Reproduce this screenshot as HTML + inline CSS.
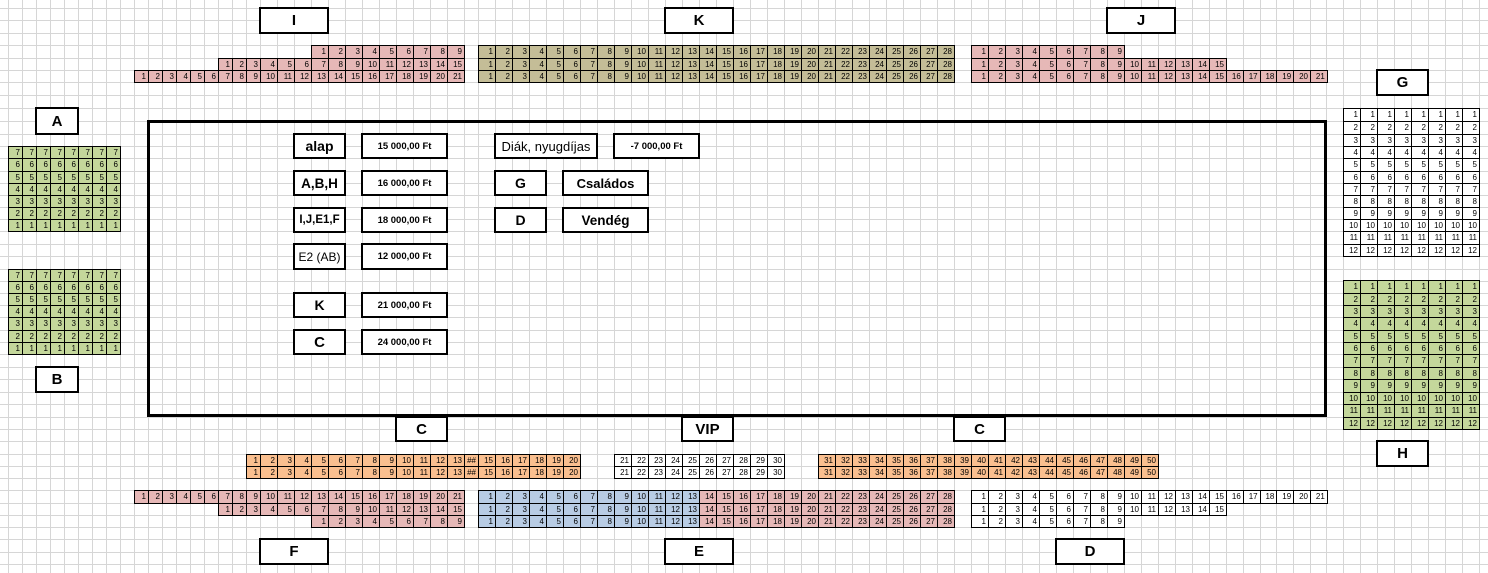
<!DOCTYPE html>
<html><head><meta charset="utf-8">
<style>
html,body{margin:0;padding:0}
body{width:1488px;height:573px;overflow:hidden;background:#fff;position:relative;font-family:"Liberation Sans",Arial,sans-serif;color:#000}
svg.g{position:absolute;left:0;top:0}
.r{position:absolute;display:flex;border-top:1px solid #000;border-left:1px solid #000;box-sizing:border-box;font-size:8px;line-height:12px;background:#fff}
.r i{font-style:normal;flex:none;box-sizing:border-box;width:17px;border-right:1px solid #000;border-bottom:1px solid #000;text-align:right;padding-right:2px;overflow:hidden;white-space:nowrap}
.nn i{width:14px}
.n3 i:nth-child(-n+3){width:14px}
.n9 i:nth-child(-n+9){width:14px}
.xj i:nth-child(n+16){width:16.8px}
.cl i:nth-child(1),.cl i:nth-child(14){width:14px}
.pk{background:#e6b8b7}.tn{background:#c4bd97}.gr{background:#c4d79b}.bl{background:#b8cce4}.or{background:#fabf8f}
.e i:nth-child(-n+13){background:#b8cce4}
.lb{position:absolute;box-sizing:border-box;border:2px solid #000;background:#fff;display:flex;align-items:center;justify-content:center;font-weight:bold;font-size:15px;white-space:nowrap}
.p{font-size:9.5px}
.rect{position:absolute;left:147px;top:120px;width:1180px;height:297px;border:3px solid #000;box-sizing:border-box}
</style></head><body>
<svg class="g" width="1488" height="573" xmlns="http://www.w3.org/2000/svg">
<path stroke="#d6d6d6" stroke-width="1" fill="none" d="M8.5 0V573M22.5 0V573M36.5 0V573M50.5 0V573M64.5 0V573M78.5 0V573M92.5 0V573M106.5 0V573M120.5 0V573M134.5 0V573M148.5 0V573M162.5 0V573M176.5 0V573M190.5 0V573M204.5 0V573M218.5 0V573M232.5 0V573M246.5 0V573M260.5 0V573M277.5 0V573M294.5 0V573M311.5 0V573M328.5 0V573M345.5 0V573M362.5 0V573M379.5 0V573M396.5 0V573M413.5 0V573M430.5 0V573M447.5 0V573M464.5 0V573M478.5 0V573M495.5 0V573M512.5 0V573M529.5 0V573M546.5 0V573M563.5 0V573M580.5 0V573M597.5 0V573M614.5 0V573M631.5 0V573M648.5 0V573M665.5 0V573M682.5 0V573M699.5 0V573M716.5 0V573M733.5 0V573M750.5 0V573M767.5 0V573M784.5 0V573M801.5 0V573M818.5 0V573M835.5 0V573M852.5 0V573M869.5 0V573M886.5 0V573M903.5 0V573M920.5 0V573M937.5 0V573M954.5 0V573M971.5 0V573M988.5 0V573M1005.5 0V573M1022.5 0V573M1039.5 0V573M1056.5 0V573M1073.5 0V573M1090.5 0V573M1107.5 0V573M1124.5 0V573M1141.5 0V573M1158.5 0V573M1175.5 0V573M1192.5 0V573M1209.5 0V573M1226.5 0V573M1243.5 0V573M1260.5 0V573M1276.5 0V573M1293.5 0V573M1310.5 0V573M1326.5 0V573M1343.5 0V573M1360.5 0V573M1377.5 0V573M1394.5 0V573M1411.5 0V573M1428.5 0V573M1445.5 0V573M1462.5 0V573M1479.5 0V573
M0 8.5H1488M0 20.5H1488M0 33.5H1488M0 45.5H1488M0 58.5H1488M0 70.5H1488M0 82.5H1488M0 95.5H1488M0 108.5H1488M0 121.5H1488M0 134.5H1488M0 146.5H1488M0 158.5H1488M0 171.5H1488M0 183.5H1488M0 195.5H1488M0 207.5H1488M0 219.5H1488M0 231.5H1488M0 244.5H1488M0 256.5H1488M0 269.5H1488M0 281.5H1488M0 293.5H1488M0 305.5H1488M0 317.5H1488M0 330.5H1488M0 342.5H1488M0 354.5H1488M0 367.5H1488M0 379.5H1488M0 392.5H1488M0 404.5H1488M0 417.5H1488M0 429.5H1488M0 441.5H1488M0 454.5H1488M0 466.5H1488M0 478.5H1488M0 490.5H1488M0 503.5H1488M0 515.5H1488M0 527.5H1488M0 539.5H1488M0 552.5H1488M0 564.5H1488"/>
</svg>

<div class="rect"></div>

<!-- Top labels -->
<div class="lb" style="left:259px;top:7px;width:70px;height:27px">I</div>
<div class="lb" style="left:664px;top:7px;width:70px;height:27px">K</div>
<div class="lb" style="left:1106px;top:7px;width:70px;height:27px">J</div>

<!-- I section -->
<div class="r pk" style="left:311px;top:45px;height:14px"><i>1</i><i>2</i><i>3</i><i>4</i><i>5</i><i>6</i><i>7</i><i>8</i><i>9</i></div>
<div class="r pk n3" style="left:218px;top:58px;height:13px"><i>1</i><i>2</i><i>3</i><i>4</i><i>5</i><i>6</i><i>7</i><i>8</i><i>9</i><i>10</i><i>11</i><i>12</i><i>13</i><i>14</i><i>15</i></div>
<div class="r pk n9" style="left:134px;top:70px;height:13px"><i>1</i><i>2</i><i>3</i><i>4</i><i>5</i><i>6</i><i>7</i><i>8</i><i>9</i><i>10</i><i>11</i><i>12</i><i>13</i><i>14</i><i>15</i><i>16</i><i>17</i><i>18</i><i>19</i><i>20</i><i>21</i></div>

<!-- K section -->
<div class="r tn" style="left:478px;top:45px;height:14px"><i>1</i><i>2</i><i>3</i><i>4</i><i>5</i><i>6</i><i>7</i><i>8</i><i>9</i><i>10</i><i>11</i><i>12</i><i>13</i><i>14</i><i>15</i><i>16</i><i>17</i><i>18</i><i>19</i><i>20</i><i>21</i><i>22</i><i>23</i><i>24</i><i>25</i><i>26</i><i>27</i><i>28</i></div>
<div class="r tn" style="left:478px;top:58px;height:13px"><i>1</i><i>2</i><i>3</i><i>4</i><i>5</i><i>6</i><i>7</i><i>8</i><i>9</i><i>10</i><i>11</i><i>12</i><i>13</i><i>14</i><i>15</i><i>16</i><i>17</i><i>18</i><i>19</i><i>20</i><i>21</i><i>22</i><i>23</i><i>24</i><i>25</i><i>26</i><i>27</i><i>28</i></div>
<div class="r tn" style="left:478px;top:70px;height:13px"><i>1</i><i>2</i><i>3</i><i>4</i><i>5</i><i>6</i><i>7</i><i>8</i><i>9</i><i>10</i><i>11</i><i>12</i><i>13</i><i>14</i><i>15</i><i>16</i><i>17</i><i>18</i><i>19</i><i>20</i><i>21</i><i>22</i><i>23</i><i>24</i><i>25</i><i>26</i><i>27</i><i>28</i></div>

<!-- J section -->
<div class="r pk" style="left:971px;top:45px;height:14px"><i>1</i><i>2</i><i>3</i><i>4</i><i>5</i><i>6</i><i>7</i><i>8</i><i>9</i></div>
<div class="r pk" style="left:971px;top:58px;height:13px"><i>1</i><i>2</i><i>3</i><i>4</i><i>5</i><i>6</i><i>7</i><i>8</i><i>9</i><i>10</i><i>11</i><i>12</i><i>13</i><i>14</i><i>15</i></div>
<div class="r pk xj" style="left:971px;top:70px;height:13px"><i>1</i><i>2</i><i>3</i><i>4</i><i>5</i><i>6</i><i>7</i><i>8</i><i>9</i><i>10</i><i>11</i><i>12</i><i>13</i><i>14</i><i>15</i><i>16</i><i>17</i><i>18</i><i>19</i><i>20</i><i>21</i></div>

<!-- A / B -->
<div class="lb" style="left:35px;top:107px;width:44px;height:28px">A</div>
<div class="r gr nn" style="left:8px;top:146px;height:13px"><i>7</i><i>7</i><i>7</i><i>7</i><i>7</i><i>7</i><i>7</i><i>7</i></div>
<div class="r gr nn" style="left:8px;top:158px;height:14px"><i>6</i><i>6</i><i>6</i><i>6</i><i>6</i><i>6</i><i>6</i><i>6</i></div>
<div class="r gr nn" style="left:8px;top:171px;height:13px"><i>5</i><i>5</i><i>5</i><i>5</i><i>5</i><i>5</i><i>5</i><i>5</i></div>
<div class="r gr nn" style="left:8px;top:183px;height:13px"><i>4</i><i>4</i><i>4</i><i>4</i><i>4</i><i>4</i><i>4</i><i>4</i></div>
<div class="r gr nn" style="left:8px;top:195px;height:13px"><i>3</i><i>3</i><i>3</i><i>3</i><i>3</i><i>3</i><i>3</i><i>3</i></div>
<div class="r gr nn" style="left:8px;top:207px;height:13px"><i>2</i><i>2</i><i>2</i><i>2</i><i>2</i><i>2</i><i>2</i><i>2</i></div>
<div class="r gr nn" style="left:8px;top:219px;height:13px"><i>1</i><i>1</i><i>1</i><i>1</i><i>1</i><i>1</i><i>1</i><i>1</i></div>

<div class="r gr nn" style="left:8px;top:269px;height:13px"><i>7</i><i>7</i><i>7</i><i>7</i><i>7</i><i>7</i><i>7</i><i>7</i></div>
<div class="r gr nn" style="left:8px;top:281px;height:13px"><i>6</i><i>6</i><i>6</i><i>6</i><i>6</i><i>6</i><i>6</i><i>6</i></div>
<div class="r gr nn" style="left:8px;top:293px;height:13px"><i>5</i><i>5</i><i>5</i><i>5</i><i>5</i><i>5</i><i>5</i><i>5</i></div>
<div class="r gr nn" style="left:8px;top:305px;height:13px"><i>4</i><i>4</i><i>4</i><i>4</i><i>4</i><i>4</i><i>4</i><i>4</i></div>
<div class="r gr nn" style="left:8px;top:317px;height:14px"><i>3</i><i>3</i><i>3</i><i>3</i><i>3</i><i>3</i><i>3</i><i>3</i></div>
<div class="r gr nn" style="left:8px;top:330px;height:13px"><i>2</i><i>2</i><i>2</i><i>2</i><i>2</i><i>2</i><i>2</i><i>2</i></div>
<div class="r gr nn" style="left:8px;top:342px;height:13px"><i>1</i><i>1</i><i>1</i><i>1</i><i>1</i><i>1</i><i>1</i><i>1</i></div>
<div class="lb" style="left:35px;top:366px;width:44px;height:27px">B</div>

<!-- G / H -->
<div class="lb" style="left:1376px;top:69px;width:53px;height:27px">G</div>
<div class="r" style="left:1343px;top:108px;height:14px"><i>1</i><i>1</i><i>1</i><i>1</i><i>1</i><i>1</i><i>1</i><i>1</i></div>
<div class="r" style="left:1343px;top:121px;height:14px"><i>2</i><i>2</i><i>2</i><i>2</i><i>2</i><i>2</i><i>2</i><i>2</i></div>
<div class="r" style="left:1343px;top:134px;height:13px"><i>3</i><i>3</i><i>3</i><i>3</i><i>3</i><i>3</i><i>3</i><i>3</i></div>
<div class="r" style="left:1343px;top:146px;height:13px"><i>4</i><i>4</i><i>4</i><i>4</i><i>4</i><i>4</i><i>4</i><i>4</i></div>
<div class="r" style="left:1343px;top:158px;height:14px"><i>5</i><i>5</i><i>5</i><i>5</i><i>5</i><i>5</i><i>5</i><i>5</i></div>
<div class="r" style="left:1343px;top:171px;height:13px"><i>6</i><i>6</i><i>6</i><i>6</i><i>6</i><i>6</i><i>6</i><i>6</i></div>
<div class="r" style="left:1343px;top:183px;height:13px"><i>7</i><i>7</i><i>7</i><i>7</i><i>7</i><i>7</i><i>7</i><i>7</i></div>
<div class="r" style="left:1343px;top:195px;height:13px"><i>8</i><i>8</i><i>8</i><i>8</i><i>8</i><i>8</i><i>8</i><i>8</i></div>
<div class="r" style="left:1343px;top:207px;height:13px"><i>9</i><i>9</i><i>9</i><i>9</i><i>9</i><i>9</i><i>9</i><i>9</i></div>
<div class="r" style="left:1343px;top:219px;height:13px"><i>10</i><i>10</i><i>10</i><i>10</i><i>10</i><i>10</i><i>10</i><i>10</i></div>
<div class="r" style="left:1343px;top:231px;height:14px"><i>11</i><i>11</i><i>11</i><i>11</i><i>11</i><i>11</i><i>11</i><i>11</i></div>
<div class="r" style="left:1343px;top:244px;height:13px"><i>12</i><i>12</i><i>12</i><i>12</i><i>12</i><i>12</i><i>12</i><i>12</i></div>

<div class="r gr" style="left:1343px;top:280px;height:14px"><i>1</i><i>1</i><i>1</i><i>1</i><i>1</i><i>1</i><i>1</i><i>1</i></div>
<div class="r gr" style="left:1343px;top:293px;height:13px"><i>2</i><i>2</i><i>2</i><i>2</i><i>2</i><i>2</i><i>2</i><i>2</i></div>
<div class="r gr" style="left:1343px;top:305px;height:13px"><i>3</i><i>3</i><i>3</i><i>3</i><i>3</i><i>3</i><i>3</i><i>3</i></div>
<div class="r gr" style="left:1343px;top:317px;height:14px"><i>4</i><i>4</i><i>4</i><i>4</i><i>4</i><i>4</i><i>4</i><i>4</i></div>
<div class="r gr" style="left:1343px;top:330px;height:13px"><i>5</i><i>5</i><i>5</i><i>5</i><i>5</i><i>5</i><i>5</i><i>5</i></div>
<div class="r gr" style="left:1343px;top:342px;height:13px"><i>6</i><i>6</i><i>6</i><i>6</i><i>6</i><i>6</i><i>6</i><i>6</i></div>
<div class="r gr" style="left:1343px;top:354px;height:14px"><i>7</i><i>7</i><i>7</i><i>7</i><i>7</i><i>7</i><i>7</i><i>7</i></div>
<div class="r gr" style="left:1343px;top:367px;height:13px"><i>8</i><i>8</i><i>8</i><i>8</i><i>8</i><i>8</i><i>8</i><i>8</i></div>
<div class="r gr" style="left:1343px;top:379px;height:14px"><i>9</i><i>9</i><i>9</i><i>9</i><i>9</i><i>9</i><i>9</i><i>9</i></div>
<div class="r gr" style="left:1343px;top:392px;height:13px"><i>10</i><i>10</i><i>10</i><i>10</i><i>10</i><i>10</i><i>10</i><i>10</i></div>
<div class="r gr" style="left:1343px;top:404px;height:14px"><i>11</i><i>11</i><i>11</i><i>11</i><i>11</i><i>11</i><i>11</i><i>11</i></div>
<div class="r gr" style="left:1343px;top:417px;height:13px"><i>12</i><i>12</i><i>12</i><i>12</i><i>12</i><i>12</i><i>12</i><i>12</i></div>
<div class="lb" style="left:1376px;top:440px;width:53px;height:27px">H</div>

<!-- Price legend -->
<div class="lb" style="left:293px;top:133px;width:53px;height:26px;font-size:14px">alap</div>
<div class="lb p" style="left:361px;top:133px;width:87px;height:26px">15 000,00 Ft</div>
<div class="lb gr" style="left:293px;top:170px;width:53px;height:26px;font-size:13.5px">A,B,H</div>
<div class="lb p" style="left:361px;top:170px;width:87px;height:26px">16 000,00 Ft</div>
<div class="lb pk" style="left:293px;top:207px;width:53px;height:26px;font-size:11.5px">I,J,E1,F</div>
<div class="lb p" style="left:361px;top:207px;width:87px;height:26px">18 000,00 Ft</div>
<div class="lb bl" style="left:293px;top:243px;width:53px;height:27px;font-size:12px;font-weight:normal">E2 (AB)</div>
<div class="lb p" style="left:361px;top:243px;width:87px;height:27px">12 000,00 Ft</div>
<div class="lb tn" style="left:293px;top:292px;width:53px;height:26px;font-size:14px">K</div>
<div class="lb p" style="left:361px;top:292px;width:87px;height:26px">21 000,00 Ft</div>
<div class="lb or" style="left:293px;top:329px;width:53px;height:26px;font-size:15px">C</div>
<div class="lb p" style="left:361px;top:329px;width:87px;height:26px">24 000,00 Ft</div>

<div class="lb" style="left:494px;top:133px;width:104px;height:26px;font-size:13px;font-weight:normal">Diák, nyugdíjas</div>
<div class="lb p" style="left:613px;top:133px;width:87px;height:26px">-7 000,00 Ft</div>
<div class="lb" style="left:494px;top:170px;width:53px;height:26px;font-size:14px">G</div>
<div class="lb" style="left:562px;top:170px;width:87px;height:26px;font-size:13px">Családos</div>
<div class="lb" style="left:494px;top:207px;width:53px;height:26px;font-size:14px">D</div>
<div class="lb" style="left:562px;top:207px;width:87px;height:26px;font-size:13.5px">Vendég</div>

<!-- Bottom labels -->
<div class="lb" style="left:395px;top:416px;width:53px;height:26px">C</div>
<div class="lb" style="left:681px;top:416px;width:53px;height:26px">VIP</div>
<div class="lb" style="left:953px;top:416px;width:53px;height:26px">C</div>

<!-- C left -->
<div class="r or cl" style="left:246px;top:454px;height:13px"><i>1</i><i>2</i><i>3</i><i>4</i><i>5</i><i>6</i><i>7</i><i>8</i><i>9</i><i>10</i><i>11</i><i>12</i><i>13</i><i>##</i><i>15</i><i>16</i><i>17</i><i>18</i><i>19</i><i>20</i></div>
<div class="r or cl" style="left:246px;top:466px;height:13px"><i>1</i><i>2</i><i>3</i><i>4</i><i>5</i><i>6</i><i>7</i><i>8</i><i>9</i><i>10</i><i>11</i><i>12</i><i>13</i><i>##</i><i>15</i><i>16</i><i>17</i><i>18</i><i>19</i><i>20</i></div>

<!-- VIP -->
<div class="r" style="left:614px;top:454px;height:13px"><i>21</i><i>22</i><i>23</i><i>24</i><i>25</i><i>26</i><i>27</i><i>28</i><i>29</i><i>30</i></div>
<div class="r" style="left:614px;top:466px;height:13px"><i>21</i><i>22</i><i>23</i><i>24</i><i>25</i><i>26</i><i>27</i><i>28</i><i>29</i><i>30</i></div>

<!-- C right -->
<div class="r or" style="left:818px;top:454px;height:13px"><i>31</i><i>32</i><i>33</i><i>34</i><i>35</i><i>36</i><i>37</i><i>38</i><i>39</i><i>40</i><i>41</i><i>42</i><i>43</i><i>44</i><i>45</i><i>46</i><i>47</i><i>48</i><i>49</i><i>50</i></div>
<div class="r or" style="left:818px;top:466px;height:13px"><i>31</i><i>32</i><i>33</i><i>34</i><i>35</i><i>36</i><i>37</i><i>38</i><i>39</i><i>40</i><i>41</i><i>42</i><i>43</i><i>44</i><i>45</i><i>46</i><i>47</i><i>48</i><i>49</i><i>50</i></div>

<!-- F -->
<div class="r pk n9" style="left:134px;top:490px;height:14px"><i>1</i><i>2</i><i>3</i><i>4</i><i>5</i><i>6</i><i>7</i><i>8</i><i>9</i><i>10</i><i>11</i><i>12</i><i>13</i><i>14</i><i>15</i><i>16</i><i>17</i><i>18</i><i>19</i><i>20</i><i>21</i></div>
<div class="r pk n3" style="left:218px;top:503px;height:13px"><i>1</i><i>2</i><i>3</i><i>4</i><i>5</i><i>6</i><i>7</i><i>8</i><i>9</i><i>10</i><i>11</i><i>12</i><i>13</i><i>14</i><i>15</i></div>
<div class="r pk" style="left:311px;top:515px;height:13px"><i>1</i><i>2</i><i>3</i><i>4</i><i>5</i><i>6</i><i>7</i><i>8</i><i>9</i></div>

<!-- E -->
<div class="r pk e" style="left:478px;top:490px;height:14px"><i>1</i><i>2</i><i>3</i><i>4</i><i>5</i><i>6</i><i>7</i><i>8</i><i>9</i><i>10</i><i>11</i><i>12</i><i>13</i><i>14</i><i>15</i><i>16</i><i>17</i><i>18</i><i>19</i><i>20</i><i>21</i><i>22</i><i>23</i><i>24</i><i>25</i><i>26</i><i>27</i><i>28</i></div>
<div class="r pk e" style="left:478px;top:503px;height:13px"><i>1</i><i>2</i><i>3</i><i>4</i><i>5</i><i>6</i><i>7</i><i>8</i><i>9</i><i>10</i><i>11</i><i>12</i><i>13</i><i>14</i><i>15</i><i>16</i><i>17</i><i>18</i><i>19</i><i>20</i><i>21</i><i>22</i><i>23</i><i>24</i><i>25</i><i>26</i><i>27</i><i>28</i></div>
<div class="r pk e" style="left:478px;top:515px;height:13px"><i>1</i><i>2</i><i>3</i><i>4</i><i>5</i><i>6</i><i>7</i><i>8</i><i>9</i><i>10</i><i>11</i><i>12</i><i>13</i><i>14</i><i>15</i><i>16</i><i>17</i><i>18</i><i>19</i><i>20</i><i>21</i><i>22</i><i>23</i><i>24</i><i>25</i><i>26</i><i>27</i><i>28</i></div>

<!-- D -->
<div class="r xj" style="left:971px;top:490px;height:14px"><i>1</i><i>2</i><i>3</i><i>4</i><i>5</i><i>6</i><i>7</i><i>8</i><i>9</i><i>10</i><i>11</i><i>12</i><i>13</i><i>14</i><i>15</i><i>16</i><i>17</i><i>18</i><i>19</i><i>20</i><i>21</i></div>
<div class="r" style="left:971px;top:503px;height:13px"><i>1</i><i>2</i><i>3</i><i>4</i><i>5</i><i>6</i><i>7</i><i>8</i><i>9</i><i>10</i><i>11</i><i>12</i><i>13</i><i>14</i><i>15</i></div>
<div class="r" style="left:971px;top:515px;height:13px"><i>1</i><i>2</i><i>3</i><i>4</i><i>5</i><i>6</i><i>7</i><i>8</i><i>9</i></div>

<div class="lb" style="left:259px;top:538px;width:70px;height:27px">F</div>
<div class="lb" style="left:664px;top:538px;width:70px;height:27px">E</div>
<div class="lb" style="left:1055px;top:538px;width:70px;height:27px">D</div>
</body></html>
